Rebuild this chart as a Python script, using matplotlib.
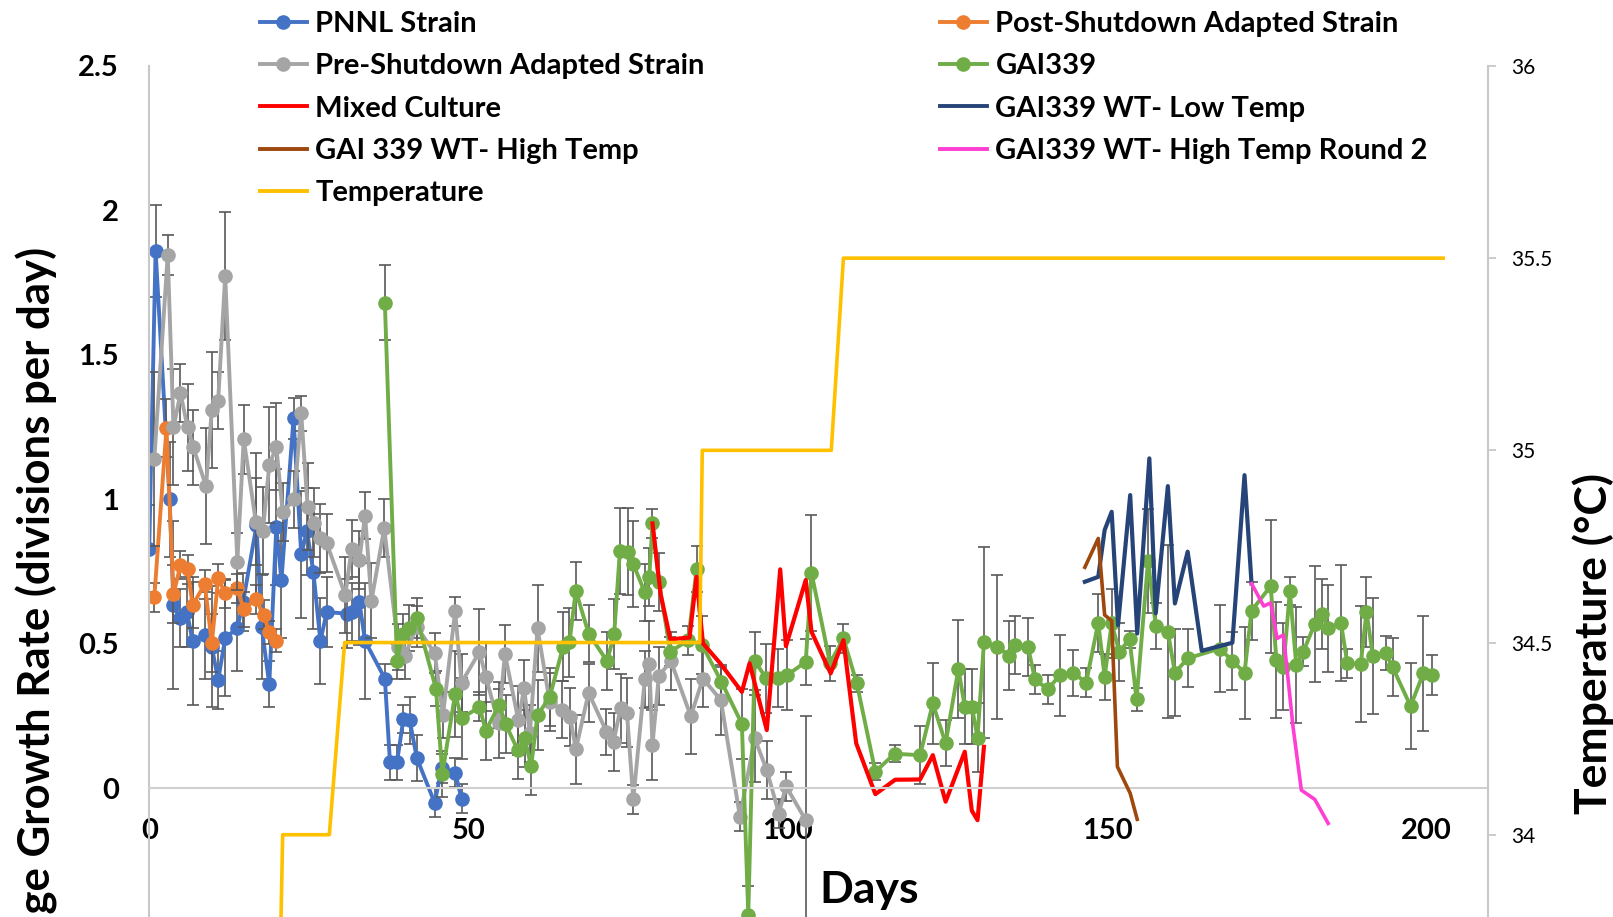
import matplotlib
matplotlib.use("Agg")
import matplotlib.pyplot as plt
from matplotlib.lines import Line2D

plt.rcParams['font.family'] = ['Lato', 'DejaVu Sans']
plt.rcParams['font.weight'] = 'bold'

# PNNL Strain
pnnl_days = [0, 1, 3.2, 3.8, 4.8, 5.9, 6.8, 8.7, 9.8, 10.8,
             11.9, 13.8, 14.7, 16.8, 17.6, 18.8, 19.9, 20.7, 22.6, 23.8,
             24.7, 25.7, 26.8, 27.8, 30.9, 31.7, 32.9, 33.8, 36.9, 37.7,
             38.8, 39.8, 40.8, 41.9, 44.7, 45.8, 47.9, 48.9]
pnnl_vals = [0.83, 1.86, 1.00, 0.635, 0.59, 0.61, 0.51, 0.53, 0.49, 0.375,
             0.52, 0.555, 0.645, 0.91, 0.56, 0.36, 0.905, 0.72, 1.28, 0.81,
             0.89, 0.75, 0.51, 0.61, 0.605, 0.61, 0.645, 0.51, 0.38, 0.09,
             0.09, 0.24, 0.235, 0.105, -0.05, 0.07, 0.055, -0.035]
pnnl_err = [0.15, 0.16, 0.2, 0.29, 0.1, 0.12, 0.22, 0.15, 0.21, 0.1,
            0.2, 0.15, 0.1, 0.25, 0.18, 0.08, 0.2, 0.2, 0.07, 0.22,
            0.15, 0.2, 0.15, 0.12, 0.12, 0.1, 0.15, 0.2, 0.05, 0.06,
            0.06, 0.05, 0.08, 0.08, 0.05, 0.05, 0.05, 0.05]

# Post-Shutdown Adapted Strain
post_days = [0.8, 2.7, 3.8, 4.9, 6.0, 6.8, 8.7, 9.8, 10.8, 11.9,
             13.8, 14.8, 16.7, 17.9, 18.8, 19.9]
post_vals = [0.661, 1.246, 0.672, 0.773, 0.758, 0.634, 0.707, 0.502, 0.727, 0.675,
             0.692, 0.62, 0.655, 0.601, 0.54, 0.511]
post_err = [0.05, 0.1, 0.1, 0.05, 0.05, 0.08, 0.05, 0.1, 0.05, 0.05,
            0.05, 0.06, 0.05, 0.05, 0.04, 0.04]

# Pre-Shutdown Adapted Strain
pre_days = [0.8, 2.9, 3.8, 4.9, 6.0, 6.9, 8.9, 9.8, 10.8, 11.9,
            13.8, 14.8, 16.7, 17.8, 18.8, 19.9, 20.9, 22.7, 23.8, 24.8,
            25.8, 26.7, 27.8, 30.7, 31.7, 32.9, 33.8, 34.8, 36.8, 39.0,
            40.0, 41.9, 44.7, 46.0, 47.9, 48.9, 51.7, 52.7, 54.7, 55.7,
            57.8, 58.7, 59.6, 60.8, 62.7, 64.6, 65.9, 66.8, 68.8, 71.6,
            72.7, 73.8, 74.8, 75.8, 77.6, 78.3, 78.8, 79.8, 81.7, 84.8,
            86.7, 89.5, 92.5, 94.8, 96.7, 98.6, 99.7, 102.8]
pre_vals = [1.14, 1.846, 1.25, 1.367, 1.25, 1.18, 1.046, 1.31, 1.342, 1.773,
            0.785, 1.208, 0.923, 0.892, 1.119, 1.182, 0.957, 1.0, 1.298, 0.975,
            0.92, 0.865, 0.848, 0.669, 0.83, 0.79, 0.944, 0.65, 0.90, 0.49,
            0.458, 0.56, 0.468, 0.254, 0.613, 0.366, 0.472, 0.387, 0.225, 0.465,
            0.236, 0.346, 0.19, 0.554, 0.30, 0.273, 0.248, 0.135, 0.331, 0.196,
            0.161, 0.277, 0.262, -0.038, 0.377, 0.43, 0.15, 0.39, 0.44, 0.25,
            0.38, 0.306, -0.098, 0.173, 0.063, -0.087, 0.008, -0.11]
pre_err = [0.3, 0.07, 0.2, 0.1, 0.15, 0.13, 0.2, 0.2, 0.1, 0.22,
           0.1, 0.12, 0.15, 0.15, 0.2, 0.15, 0.1, 0.1, 0.06, 0.15,
           0.12, 0.12, 0.1, 0.13, 0.1, 0.1, 0.08, 0.13, 0.1, 0.08,
           0.08, 0.07, 0.07, 0.08, 0.05, 0.1, 0.15, 0.12, 0.12, 0.1,
           0.12, 0.1, 0.1, 0.15, 0.1, 0.1, 0.1, 0.12, 0.1, 0.08,
           0.1, 0.12, 0.12, 0.05, 0.1, 0.15, 0.12, 0.1, 0.1, 0.13,
           0.1, 0.12, 0.05, 0.15, 0.1, 0.05, 0.05, 0.36]

# GAI339
gai_days = [36.9, 38.8, 39.7, 40.7, 41.9, 44.9, 45.9, 47.9, 48.9, 51.7,
            52.7, 54.8, 55.8, 57.7, 58.8, 59.8, 60.8, 62.7, 64.8, 65.8,
            66.8, 68.8, 71.7, 72.8, 73.7, 74.9, 75.8, 77.6, 78.3, 78.8,
            79.8, 81.6, 84.4, 85.7, 86.6, 89.6, 92.8, 93.8, 94.8, 96.6,
            98.5, 99.9, 102.8, 103.7, 106.6, 108.7, 110.8, 113.7, 116.7, 120.7,
            122.7, 124.7, 126.7, 127.7, 128.8, 129.7, 130.7, 132.7, 134.7, 135.5,
            137.6, 138.7, 140.7, 142.6, 144.7, 146.7, 148.6, 149.6, 150.7, 151.9,
            153.5, 154.6, 156.4, 157.6, 159.5, 160.6, 162.6, 167.6, 169.6, 171.5,
            172.6, 175.6, 176.5, 177.6, 178.6, 179.6, 180.7, 182.5, 183.6, 184.6,
            186.6, 187.6, 189.7, 190.6, 191.6, 193.6, 194.7, 197.5, 199.5, 200.8]
gai_vals = [1.68, 0.44, 0.535, 0.556, 0.59, 0.345, 0.05, 0.327, 0.242, 0.282,
            0.2, 0.289, 0.223, 0.133, 0.173, 0.077, 0.254, 0.315, 0.49, 0.505,
            0.684, 0.536, 0.44, 0.534, 0.822, 0.819, 0.776, 0.678, 0.732, 0.917,
            0.715, 0.473, 0.513, 0.758, 0.495, 0.369, 0.223, -0.438, 0.442, 0.381,
            0.381, 0.392, 0.438, 0.746, 0.433, 0.519, 0.363, 0.058, 0.12, 0.115,
            0.294, 0.156, 0.413, 0.283, 0.283, 0.176, 0.505, 0.49, 0.459, 0.496,
            0.49, 0.377, 0.343, 0.392, 0.4, 0.366, 0.573, 0.386, 0.571, 0.473,
            0.516, 0.308, 0.788, 0.562, 0.542, 0.4, 0.45, 0.484, 0.442, 0.4,
            0.615, 0.7, 0.444, 0.421, 0.683, 0.427, 0.473, 0.569, 0.603, 0.554,
            0.573, 0.433, 0.43, 0.611, 0.458, 0.469, 0.419, 0.285, 0.398, 0.392]
gai_err = [0.13, 0.06, 0.07, 0.08, 0.07, 0.06, 0.08, 0.15, 0.14, 0.05,
           0.1, 0.08, 0.1, 0.1, 0.1, 0.1, 0.12, 0.1, 0.12, 0.12,
           0.1, 0.1, 0.1, 0.12, 0.15, 0.15, 0.15, 0.1, 0.1, 0.05,
           0.1, 0.05, 0.05, 0.08, 0.1, 0.05, 0.12, 0.1, 0.1, 0.12,
           0.1, 0.12, 0.08, 0.2, 0.06, 0.05, 0.03, 0.03, 0.03, 0.1,
           0.14, 0.08, 0.17, 0.13, 0.13, 0.12, 0.33, 0.25, 0.12, 0.1,
           0.1, 0.05, 0.05, 0.14, 0.08, 0.05, 0.1, 0.08, 0.12, 0.1,
           0.03, 0.04, 0.18, 0.08, 0.3, 0.15, 0.1, 0.15, 0.1, 0.16,
           0.1, 0.23, 0.2, 0.15, 0.05, 0.2, 0.05, 0.2, 0.12, 0.15,
           0.2, 0.05, 0.2, 0.12, 0.2, 0.06, 0.1, 0.15, 0.2, 0.07]

# Mixed Culture
mixed_days = [78.8, 80.1, 81.6, 84.6, 85.7, 86.7, 89.4, 92.8, 94.0, 96.7,
              98.8, 99.7, 102.8, 103.7, 106.7, 108.7, 110.7, 113.7, 116.8, 120.7,
              122.7, 124.7, 127.7, 128.8, 129.7, 130.7]
mixed_vals = [0.917, 0.669, 0.516, 0.522, 0.732, 0.502, 0.433, 0.334, 0.433, 0.202,
              0.758, 0.492, 0.721, 0.542, 0.398, 0.513, 0.156, -0.02, 0.03, 0.031,
              0.115, -0.046, 0.127, -0.077, -0.11, 0.144]

# GAI339 WT- Low Temp
low_days = [146.5, 148.6, 149.6, 150.7, 151.7, 153.6, 154.7, 156.6, 157.6, 159.5,
            160.6, 162.6, 164.8, 169.6, 171.5, 172.6]
low_vals = [0.715, 0.732, 0.894, 0.957, 0.565, 1.015, 0.536, 1.142, 0.606, 1.046,
            0.64, 0.819, 0.476, 0.504, 1.084, 0.709]

# GAI 339 WT- High Temp
high_days = [146.5, 148.6, 149.6, 150.7, 151.6, 153.6, 154.7]
high_vals = [0.765, 0.865, 0.6, 0.58, 0.075, -0.017, -0.107]

# GAI339 WT- High Temp Round 2
high2_days = [172.6, 174.5, 175.6, 176.6, 177.6, 179.1, 180.4, 182.5, 184.6]
high2_vals = [0.709, 0.631, 0.642, 0.519, 0.531, 0.213, -0.006, -0.038, -0.121]

# Temperature (right axis)
temp_days = [20.3, 20.9, 28.2, 30.6, 86.2, 86.6, 106.8, 108.7, 202.6]
temp_vals = [33.5, 34, 34, 34.5, 34.5, 35, 35, 35.5, 35.5]

fig = plt.figure(figsize=(16.13, 9.17), dpi=100)
ax = fig.add_axes([0.0925, 0.0, 0.8303, 0.9281])
ax2 = ax.twinx()

ebar_col = '#595959'
lw = 2.8
ms = 9.5

series = [
    (pnnl_days, pnnl_vals, pnnl_err, '#4472C4'),
    (post_days, post_vals, post_err, '#ED7D31'),
    (pre_days, pre_vals, pre_err, '#A5A5A5'),
    (gai_days, gai_vals, gai_err, '#70AD47'),
]
for i, (d, v, e, c) in enumerate(series):
    ax.errorbar(d, v, yerr=e, fmt='-o', color=c, lw=lw, ms=ms,
                ecolor=ebar_col, elinewidth=1.2, capsize=4.5, capthick=1.2,
                zorder=2 + i * 0.1)

ax.plot(mixed_days, mixed_vals, color='#FF0000', lw=3, zorder=2.5)
ax.plot(low_days, low_vals, color='#264478', lw=3, zorder=2.6)
ax.plot(high_days, high_vals, color='#9E480E', lw=2.6, zorder=2.7)
ax.plot(high2_days, high2_vals, color='#FF3FD2', lw=2.6, zorder=2.8)

ax2.plot(temp_days, temp_vals, color='#FFC000', lw=2.6)

ax.set_xlim(0, 209.7)
ax.set_ylim(-0.445, 2.5)
ax2.set_ylim(33.786, 36)

ax.set_xticks([0, 50, 100, 150, 200])
ax.set_yticks([0, 0.5, 1, 1.5, 2, 2.5])
ax.set_yticklabels(['0', '0.5', '1', '1.5', '2', '2.5'])
ax2.set_yticks([34, 34.5, 35, 35.5, 36])
ax2.set_yticklabels(['34', '34.5', '35', '35.5', '36'])

ax.spines['top'].set_visible(False)
ax.spines['right'].set_visible(False)
ax.spines['left'].set_color('#C8C8C8')
ax.spines['left'].set_linewidth(1.5)
ax.spines['bottom'].set_position(('data', 0))
ax.spines['bottom'].set_color('#D0D0D0')
ax.spines['bottom'].set_linewidth(1.5)
for s in ['top', 'left', 'bottom']:
    ax2.spines[s].set_visible(False)
ax2.spines['right'].set_color('#C8C8C8')
ax2.spines['right'].set_linewidth(1.5)

ax.tick_params(axis='y', length=0, pad=22, labelsize=21)
ax.tick_params(axis='x', length=0, pad=21, labelsize=21)
ax2.tick_params(axis='y', length=6, width=1.3, color='#C8C8C8', pad=10, labelsize=15)
for lbl in ax2.get_yticklabels():
    lbl.set_fontweight('normal')

# axis titles run past the figure edge, as in the cropped original
fig.text(0.023, 0.7306, 'Average Growth Rate (divisions per day)', rotation=90,
         ha='center', va='top', fontsize=31.5, fontweight='bold')
fig.text(0.9876, 0.484, 'Temperature (°C)', rotation=90,
         ha='center', va='top', fontsize=32, fontweight='bold')
fig.text(0.539, 0.029, 'Days', ha='center', va='center', fontsize=32, fontweight='bold')

def handle(c, marker=True):
    if marker:
        return Line2D([], [], color=c, lw=lw, marker='o', ms=ms)
    return Line2D([], [], color=c, lw=lw)

left_h = [handle('#4472C4'), handle('#A5A5A5'), handle('#FF0000', False),
          handle('#9E480E', False), handle('#FFC000', False)]
left_l = ['PNNL Strain', 'Pre-Shutdown Adapted Strain', 'Mixed Culture',
          'GAI 339 WT- High Temp', 'Temperature']
right_h = [handle('#ED7D31'), handle('#70AD47'), handle('#264478', False),
           handle('#FF3FD2', False)]
right_l = ['Post-Shutdown Adapted Strain', 'GAI339', 'GAI339 WT- Low Temp',
           'GAI339 WT- High Temp Round 2']

leg_kw = dict(loc='upper left', frameon=False, borderpad=0, borderaxespad=0,
              handlelength=1.6, handletextpad=0.3, labelspacing=0.56,
              prop={'size': 21, 'weight': 'bold'})
leg1 = fig.legend(left_h, left_l, bbox_to_anchor=(260 / 1613, 1 - 11 / 917), **leg_kw)
leg2 = fig.legend(right_h, right_l, bbox_to_anchor=(940 / 1613, 1 - 11 / 917), **leg_kw)

fig.savefig('out.png', dpi=100)
